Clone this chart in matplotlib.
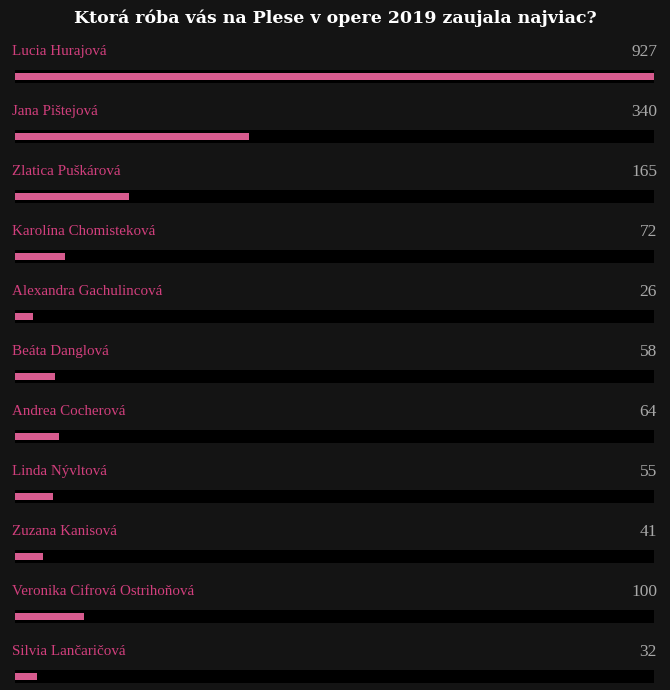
import matplotlib.pyplot as plt
from matplotlib.patches import Rectangle
import matplotlib.transforms as mtransforms

title = 'Ktorá róba vás na Plese v opere 2019 zaujala najviac?'
names = ['Lucia Hurajová', 'Jana Pištejová', 'Zlatica Puškárová',
         'Karolína Chomisteková', 'Alexandra Gachulincová', 'Beáta Danglová',
         'Andrea Cocherová', 'Linda Nývltová', 'Zuzana Kanisová',
         'Veronika Cifrová Ostrihoňová', 'Silvia Lančaričová']
votes = [927, 340, 165, 72, 26, 58, 64, 55, 41, 100, 32]

BG = '#141414'
FILL = '#d65b8e'
NAME_C = '#d23f7d'
VAL_C = '#a8a8a8'

W, H = 670, 690
fig = plt.figure(figsize=(W / 100, H / 100), dpi=100, facecolor=BG)
# axes: x=0 at px 15, x=max at px 654; one row per 60 px, first row centred at px 76.5
ax = fig.add_axes([15 / W, 0, 639 / W, 1])
ax.set_facecolor(BG)
ax.set_xlim(0, max(votes))
ax.set_ylim((H - 76.5) / 60, -76.5 / 60)
ax.axis('off')

trans = mtransforms.blended_transform_factory(ax.transAxes, ax.transData)
pad = 3 / 639
for i, (name, v) in enumerate(zip(names, votes)):
    # black track
    ax.add_patch(Rectangle((-pad, i - 6.5 / 60), 1 + 2 * pad, 13 / 60,
                           transform=trans, facecolor='black', edgecolor='none'))
    ax.text(-pad, i - 0.36, name, transform=trans, fontsize=10.8,
            family='Liberation Serif', color=NAME_C, ha='left', va='baseline')
    ax.text(1 + pad, i - 0.35, str(v), transform=trans, fontsize=12.5,
            family='Liberation Serif', color=VAL_C, ha='right', va='baseline')

ax.barh(range(len(votes)), votes, height=7 / 60, left=0, color=FILL)

fig.text(0.5, 1 - 23 / H, title, ha='center', va='baseline', color='white',
         fontsize=12.5, fontweight='heavy', family='DejaVu Serif')

fig.savefig('out.png', dpi=100, facecolor=BG)
